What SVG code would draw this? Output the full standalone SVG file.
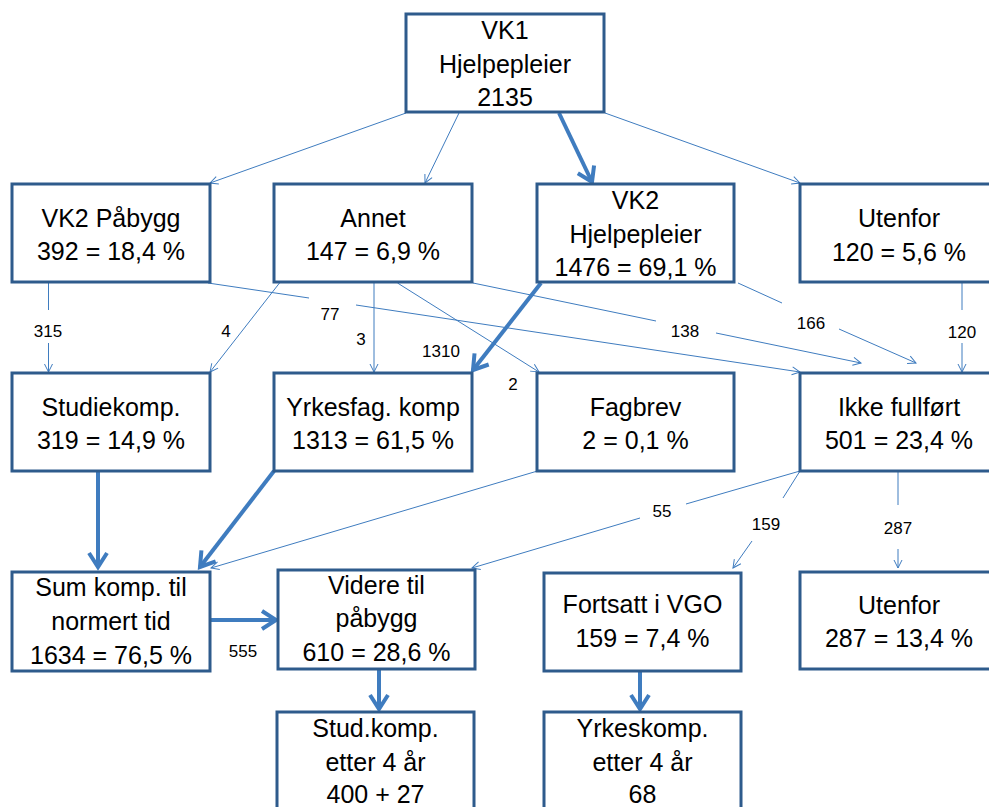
<svg xmlns="http://www.w3.org/2000/svg" width="989" height="807" viewBox="0 0 989 807">
<style>
.box{fill:#fff;stroke:#2E5B8C;stroke-width:3}
.t{font-family:"Liberation Sans",Arial,sans-serif;font-size:25px;fill:#000;text-anchor:middle}
.l{font-family:"Liberation Sans",Arial,sans-serif;font-size:17px;fill:#000;text-anchor:middle}
.c{fill:none;stroke:#3F7CBF;stroke-width:1}
.ck{fill:none;stroke:#3F7CBF;stroke-width:4}
</style>
<defs>
<marker id="a" viewBox="-10 -6 12 12" refX="0" refY="0" markerWidth="12" markerHeight="12" markerUnits="userSpaceOnUse" orient="auto">
<path d="M-8,-4 L0,0 L-8,4" fill="none" stroke="#3F7CBF" stroke-width="1"/>
</marker>
<marker id="ak" viewBox="-18 -12 22 24" refX="0" refY="0" markerWidth="22" markerHeight="24" markerUnits="userSpaceOnUse" orient="auto">
<path d="M-14,-9 L0,0 L-14,9" fill="none" stroke="#3F7CBF" stroke-width="4"/>
</marker>
</defs>
<rect width="989" height="807" fill="#fff"/>
<g id="connectors">
<path class="c" d="M406,113 L210,183" marker-end="url(#a)"/>
<path class="c" d="M459,113 L425,183" marker-end="url(#a)"/>
<path class="ck" d="M559,113 L592,182" marker-end="url(#ak)"/>
<path class="c" d="M605,113 L800,183" marker-end="url(#a)"/>
<path class="c" d="M48.5,283 V310"/>
<path class="c" d="M48.5,343 V372" marker-end="url(#a)"/>
<path class="c" d="M279.5,283 L210,372" marker-end="url(#a)"/>
<path class="c" d="M208,283 L309,298"/>
<path class="c" d="M356,305 L800,372" marker-end="url(#a)"/>
<path class="c" d="M374,283 V372" marker-end="url(#a)"/>
<path class="c" d="M397.5,283 L539,372" marker-end="url(#a)"/>
<path class="c" d="M473,283 L656,321"/>
<path class="c" d="M716,333 L861,363" marker-end="url(#a)"/>
<path class="ck" d="M541,283 L473,370" marker-end="url(#ak)"/>
<path class="c" d="M738,283 L782,303"/>
<path class="c" d="M839,329 L916,363" marker-end="url(#a)"/>
<path class="c" d="M962,283 V310"/>
<path class="c" d="M962,343 V372" marker-end="url(#a)"/>
<path class="ck" d="M98,471 V567" marker-end="url(#ak)"/>
<path class="ck" d="M274,471 L200,567" marker-end="url(#ak)"/>
<path class="c" d="M537.5,471 L211,568" marker-end="url(#a)"/>
<path class="c" d="M800,471 L686,504"/>
<path class="c" d="M640,518 L472,568" marker-end="url(#a)"/>
<path class="c" d="M800,471 L783,498"/>
<path class="c" d="M752,541 L733,568" marker-end="url(#a)"/>
<path class="c" d="M898,471 V505"/>
<path class="c" d="M898,549 V568" marker-end="url(#a)"/>
<path class="ck" d="M210,620 H276" marker-end="url(#ak)"/>
<path class="ck" d="M379,669 V709" marker-end="url(#ak)"/>
<path class="ck" d="M640,671 V709" marker-end="url(#ak)"/>
<text class="l" x="48" y="337">315</text>
<text class="l" x="226" y="337">4</text>
<text class="l" x="330" y="320">77</text>
<text class="l" x="361" y="345">3</text>
<text class="l" x="441" y="357">1310</text>
<text class="l" x="685" y="337">138</text>
<text class="l" x="811" y="329">166</text>
<text class="l" x="962" y="338">120</text>
<text class="l" x="513" y="390">2</text>
<text class="l" x="662" y="517">55</text>
<text class="l" x="766" y="530">159</text>
<text class="l" x="898" y="534">287</text>
<text class="l" x="243" y="657">555</text>
</g>
<g id="vk1">
<rect class="box" x="406" y="14" width="198" height="98"/>
<text class="t" x="505" y="39">VK1</text>
<text class="t" x="505" y="73">Hjelpepleier</text>
<text class="t" x="505" y="106">2135</text>
</g>
<g id="vk2pabygg">
<rect class="box" x="12" y="184" width="198" height="98"/>
<text class="t" x="111" y="227">VK2 Påbygg</text>
<text class="t" x="111" y="260">392 = 18,4 %</text>
</g>
<g id="annet">
<rect class="box" x="274" y="184" width="198" height="98"/>
<text class="t" x="373" y="227">Annet</text>
<text class="t" x="373" y="260">147 = 6,9 %</text>
</g>
<g id="vk2hjelpepleier">
<rect class="box" x="537" y="184" width="197" height="98"/>
<text class="t" x="635.5" y="209">VK2</text>
<text class="t" x="635.5" y="243">Hjelpepleier</text>
<text class="t" x="635.5" y="276">1476 = 69,1 %</text>
</g>
<g id="utenfor1">
<rect class="box" x="800" y="184" width="198" height="98"/>
<text class="t" x="899" y="227">Utenfor</text>
<text class="t" x="899" y="261">120 = 5,6 %</text>
</g>
<g id="studiekomp">
<rect class="box" x="12" y="373" width="198" height="98"/>
<text class="t" x="111" y="416">Studiekomp.</text>
<text class="t" x="111" y="449">319 = 14,9 %</text>
</g>
<g id="yrkesfag">
<rect class="box" x="274" y="373" width="198" height="98"/>
<text class="t" x="373" y="416">Yrkesfag. komp</text>
<text class="t" x="373" y="449">1313 = 61,5 %</text>
</g>
<g id="fagbrev">
<rect class="box" x="537" y="373" width="197" height="98"/>
<text class="t" x="635.5" y="416">Fagbrev</text>
<text class="t" x="635.5" y="449">2 = 0,1 %</text>
</g>
<g id="ikkefullfort">
<rect class="box" x="800" y="373" width="198" height="98"/>
<text class="t" x="899" y="416">Ikke fullført</text>
<text class="t" x="899" y="449">501 = 23,4 %</text>
</g>
<g id="sumkomp">
<rect class="box" x="12" y="572" width="198" height="99"/>
<text class="t" x="111" y="596">Sum komp. til</text>
<text class="t" x="111" y="630">normert tid</text>
<text class="t" x="111" y="664">1634 = 76,5 %</text>
</g>
<g id="videre">
<rect class="box" x="278" y="570" width="197" height="99"/>
<text class="t" x="376.5" y="594">Videre til</text>
<text class="t" x="376.5" y="627">påbygg</text>
<text class="t" x="376.5" y="661">610 = 28,6 %</text>
</g>
<g id="fortsatt">
<rect class="box" x="544" y="573" width="197" height="98"/>
<text class="t" x="642.5" y="613">Fortsatt i VGO</text>
<text class="t" x="642.5" y="647">159 = 7,4 %</text>
</g>
<g id="utenfor2">
<rect class="box" x="800" y="572" width="198" height="97"/>
<text class="t" x="899" y="614">Utenfor</text>
<text class="t" x="899" y="647">287 = 13,4 %</text>
</g>
<g id="studkomp4">
<rect class="box" x="277" y="712" width="197" height="100"/>
<text class="t" x="375.5" y="737">Stud.komp.</text>
<text class="t" x="375.5" y="771">etter 4 år</text>
<text class="t" x="375.5" y="803">400 + 27</text>
</g>
<g id="yrkeskomp4">
<rect class="box" x="544" y="712" width="197" height="100"/>
<text class="t" x="642.5" y="737">Yrkeskomp.</text>
<text class="t" x="642.5" y="771">etter 4 år</text>
<text class="t" x="642.5" y="803">68</text>
</g>
</svg>
